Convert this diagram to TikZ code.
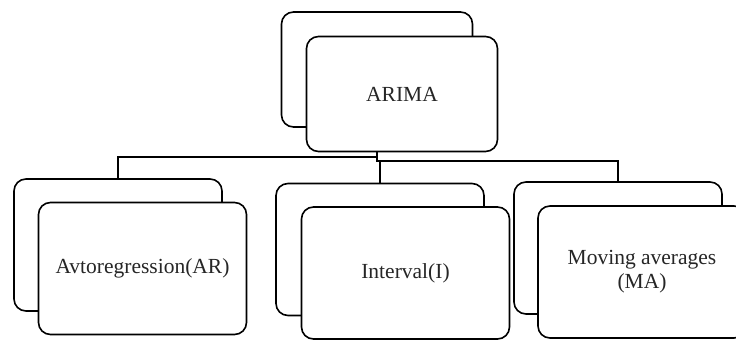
\documentclass[tikz,border=0pt]{standalone}
\usepackage{fontspec}
\setmainfont{Liberation Serif}
\begin{document}
\begin{tikzpicture}[x=1pt,y=-1pt,
  card/.style={draw=black, line width=1.6pt, rounded corners=12pt, fill=white,
    inner sep=0pt, minimum width=208pt, minimum height=132pt,
    font=\fontsize{21.5}{24}\selectfont, align=center, text=black!85},
  topcard/.style={card, minimum width=191pt, minimum height=115pt},
  link/.style={draw=black, line width=1.4pt}]
\useasboundingbox (0,0) rectangle (736,340);
% top
\node[topcard] (arimaB) at (377,69.5) {};
\node[topcard] (arimaF) at (402,94) {ARIMA};
% connectors
\coordinate (j1) at (377,157);
\coordinate (j2) at (380,161);
% children back
\node[card] (arB) at (118,245) {};
\node[card] (iB) at (380,249.5) {};
\node[card] (maB) at (618,248) {};
\draw[link] (arimaF.south -| j1) -- (j1) -| (arB.north);
\draw[link] (j1) -- (j1 |- j2) -- (j2) -| (maB.north);
\draw[link] (j2) -- (iB.north);
% children front
\node[card] (arF) at (142.5,268.5) {Avtoregression(AR)};
\node[card] (iF) at (405.5,273) {Interval(I)};
\node[card] (maF) at (642,272) {Moving averages\\(MA)};
\end{tikzpicture}
\end{document}
